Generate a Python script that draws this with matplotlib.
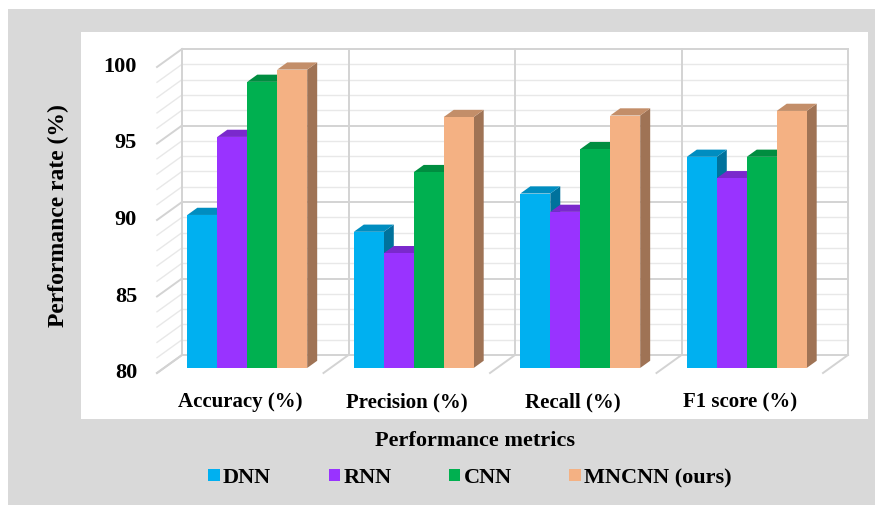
import numpy as np
import matplotlib
matplotlib.use("Agg")
import matplotlib.pyplot as plt
from matplotlib.patches import Polygon, Rectangle, Patch
from matplotlib.colors import to_rgb

plt.rcParams['font.family'] = ['Liberation Serif', 'DejaVu Serif']
plt.rcParams['font.weight'] = 'bold'

metrics = ["Accuracy (%)", "Precision (%)", "Recall (%)", "F1 score (%)"]
models = ["DNN", "RNN", "CNN", "MNCNN (ours)"]
dnn = [90.0, 88.9, 91.4, 93.8]
rnn = [95.1, 87.5, 90.2, 92.4]
cnn = [98.7, 92.8, 94.3, 93.8]
mncnn = [99.5, 96.4, 96.5, 96.8]
colors = ["#00B0F0", "#9933FF", "#00B050", "#F4B183"]
y_ticks = [80, 85, 90, 95, 100]

W, H = 875, 505
fig = plt.figure(figsize=(W / 100, H / 100), dpi=100)
fig.patch.set_facecolor("white")

# grey frame and white chart area
fig.patches.append(Rectangle((8 / W, 0), 867 / W, 496 / H, transform=fig.transFigure,
                             facecolor="#d9d9d9", edgecolor="none", zorder=-3))
fig.patches.append(Rectangle((81 / W, 86 / H), 787 / W, 387 / H, transform=fig.transFigure,
                             facecolor="white", edgecolor="none", zorder=-2))

# axes = back wall of the 3-D box
ax = fig.add_axes([182 / W, 150 / H, 666 / W, 306 / H])
ax.set_xlim(0, 4)
ax.set_ylim(80, 100)
ax.axis("off")
ax.set_zorder(1)

# oblique depth vector (back -> front of floor) in data units
DX = -25 / 166.5
DY = -18 / 15.3


def proj(x, y, d):
    return x + d * DX, y + d * DY


grid_minor = "#e8e8e8"
grid_major = "#d3d3d3"

# back wall + left wall gridlines
for v in range(80, 101):
    c = grid_major if v % 5 == 0 else grid_minor
    lw = 1.4 if v % 5 == 0 else 1.0
    ax.plot([0, 4], [v, v], color=c, lw=lw, zorder=1, clip_on=False)
    x0, y0 = proj(0, v, 0)
    x1, y1 = proj(0, v, 1)
    ax.plot([x0, x1], [y0, y1], color=c, lw=lw, zorder=1, clip_on=False)

# vertical dividers on the back wall and floor lines
for i in range(5):
    ax.plot([i, i], [80, 100], color=grid_major, lw=1.4, zorder=1, clip_on=False)
    x0, y0 = proj(i, 80, 0)
    x1, y1 = proj(i, 80, 1)
    ax.plot([x0, x1], [y0, y1], color=grid_major, lw=1.4, zorder=1, clip_on=False)

# 3-D bars
series = [dnn, rnn, cnn, mncnn]
bar_w = 0.18
d_front, d_back = 0.72, 0.32
z = 2
for i in range(len(metrics)):
    for j, vals in enumerate(series):
        v = vals[i]
        base = np.array(to_rgb(colors[j]))
        x0 = i + 0.5 - 2 * bar_w + j * bar_w
        x1 = x0 + bar_w
        side = [proj(x1, 80, d_front), proj(x1, 80, d_back), proj(x1, v, d_back), proj(x1, v, d_front)]
        top = [proj(x0, v, d_front), proj(x1, v, d_front), proj(x1, v, d_back), proj(x0, v, d_back)]
        front = [proj(x0, 80, d_front), proj(x1, 80, d_front), proj(x1, v, d_front), proj(x0, v, d_front)]
        ax.add_patch(Polygon(side, closed=True, facecolor=base * 0.65, edgecolor="none", zorder=z, clip_on=False))
        ax.add_patch(Polygon(top, closed=True, facecolor=base * 0.8, edgecolor="none", zorder=z, clip_on=False))
        ax.add_patch(Polygon(front, closed=True, facecolor=base, edgecolor="none", zorder=z + 0.5, clip_on=False))
        z += 1

# y tick labels on the front plane
for t in y_ticks:
    x, y = proj(0, t, 1)
    ax.text(x - 0.12, y, str(t), ha="right", va="center", fontsize=16,
            fontweight="bold", clip_on=False)

# category labels
for i, m in enumerate(metrics):
    x, y = proj(i + 0.5, 80, 1)
    ax.text(x, y - 1.9, m, ha="center", va="center", fontsize=15, fontweight="bold", clip_on=False)

fig.text(475 / W, 1 - 441 / H, "Performance metrics", ha="center", va="center",
         fontsize=16, fontweight="bold")
fig.text(58 / W, 1 - 216 / H, "Performance rate (%)", ha="center", va="center",
         rotation=90, fontsize=17, fontweight="bold")

handles = [Patch(facecolor=c, edgecolor="none") for c in colors]
fig.legend(handles, models, loc="center", bbox_to_anchor=(470 / W, 1 - 478 / H), ncol=4,
           frameon=False, handlelength=0.5, handleheight=0.5,
           handletextpad=0.15, columnspacing=2.6, prop={"weight": "bold", "size": 16})

fig.savefig("out.png", dpi=100)
